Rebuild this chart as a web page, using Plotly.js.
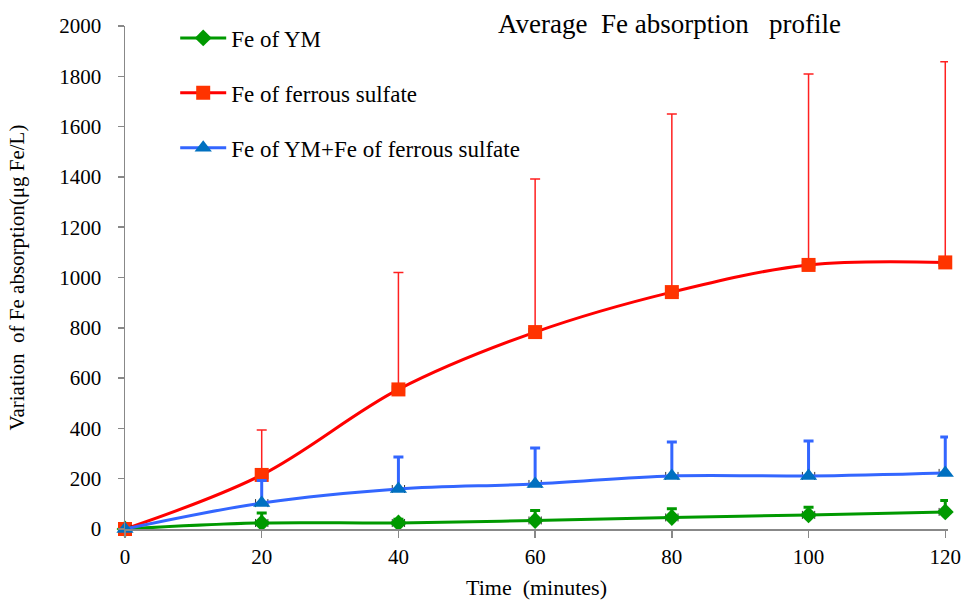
<!DOCTYPE html>
<html>
<head>
<meta charset="utf-8">
<script src="https://cdn.plot.ly/plotly-3.0.1.min.js"></script>
<style>
  html, body { margin: 0; padding: 0; background: #fff; }
  #chart { width: 965px; height: 604px; }
</style>
</head>
<body>
<div id="chart"></div>
<script>
const timeMin = [0, 20, 40, 60, 80, 100, 120];

const ymName = "Fe of YM";
const ymValues = [0, 24, 24, 34, 46, 56, 68];
const ymErrUp = [0, 40, 15, 40, 35, 30, 45];

const fsName = "Fe of ferrous sulfate";
const fsValues = [0, 215, 555, 783, 942, 1050, 1060];
const fsErrUp = [0, 179, 465, 609, 708, 759, 798];

const mixName = "Fe of YM+Fe of ferrous sulfate";
const mixValues = [0, 103, 159, 179, 211, 211, 223];
const mixErrUp = [0, 90, 127, 143, 135, 139, 143];

const yTicks = [0, 200, 400, 600, 800, 1000, 1200, 1400, 1600, 1800, 2000];
const xTicks = [0, 20, 40, 60, 80, 100, 120];

const zeros = timeMin.map(() => 0);
const serif = "Liberation Serif, Times New Roman, serif";

function makeTrace(name, y, errUp, lineColor, markerColor, symbol, msize, errColor, errThick, errWidth, group) {
  return {
    type: "scatter",
    mode: "lines+markers",
    name: name,
    legendgroup: group,
    x: timeMin,
    y: y,
    cliponaxis: false,
    line: { color: lineColor, width: 3, shape: "spline", smoothing: 1 },
    marker: { color: markerColor, symbol: symbol, size: msize },
    error_y: {
      type: "data", symmetric: false, array: errUp, arrayminus: zeros,
      color: errColor, thickness: errThick, width: errWidth, visible: true
    },
    error_x: {
      type: "constant", value: 0.9, color: "#333333", thickness: 1, width: 4, visible: true
    }
  };
}

const traces = [
  makeTrace(ymName, ymValues, ymErrUp, "#009900", "#009900", "diamond", 13, "#009900", 3, 5, "g1"),
  makeTrace(fsName, fsValues, fsErrUp, "#FF0000", "#FF3300", "square", 14, "#FF2020", 1.5, 5, "g2"),
  makeTrace(mixName, mixValues, mixErrUp, "#3366FF", "#0070C0", "triangle-up", 15, "#3366FF", 3, 5, "g3")
];

const layout = {
  width: 965, height: 604,
  paper_bgcolor: "#ffffff", plot_bgcolor: "#ffffff",
  margin: { l: 125, r: 17, t: 26, b: 75 },
  font: { family: serif, size: 21, color: "#000000" },
  showlegend: true,
  legend: {
    x: 0.061, y: 1.019, xanchor: "left", yanchor: "top",
    bgcolor: "rgba(0,0,0,0)", borderwidth: 0,
    font: { family: serif, size: 23, color: "#000" },
    tracegroupgap: 22, itemwidth: 46
  },
  annotations: [{
    text: "Average  Fe absorption   profile",
    xref: "paper", yref: "paper", x: 0.661, y: 1.004, xanchor: "center", yanchor: "middle",
    showarrow: false, font: { family: serif, size: 27, color: "#000" }
  }],
  xaxis: {
    range: [0, 120.4], tickvals: xTicks, ticktext: xTicks.map(String),
    showgrid: false, zeroline: false, showline: true, linecolor: "#888888", linewidth: 1.5,
    ticks: "outside", ticklen: 7, tickcolor: "#888888", tickwidth: 1.5,
    tickfont: { family: serif, size: 21, color: "#000" }, ticklabelstandoff: 1,
    title: { text: "Time  (minutes)", font: { family: serif, size: 22, color: "#000" }, standoff: 12 }
  },
  yaxis: {
    range: [0, 2000], tickvals: yTicks, ticktext: yTicks.map(String),
    showgrid: false, zeroline: false, showline: true, linecolor: "#888888", linewidth: 1.5,
    ticks: "outside", ticklen: 6, tickcolor: "#888888", tickwidth: 1.5,
    tickfont: { family: serif, size: 21, color: "#000" }, ticklabelstandoff: 12,
    title: { text: "Variation  of Fe absorption(μg Fe/L)", font: { family: serif, size: 21, color: "#000" }, standoff: 29 }
  }
};

Plotly.newPlot("chart", traces, layout, { displayModeBar: false, staticPlot: true });
</script>
</body>
</html>
